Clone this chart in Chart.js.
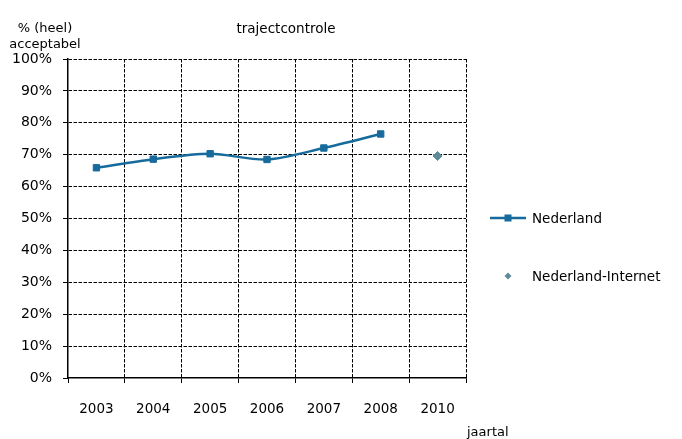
<!DOCTYPE html>
<html>
<head>
<meta charset="utf-8">
<script src="https://cdn.jsdelivr.net/npm/chart.js@4/dist/chart.umd.min.js"></script>
<style>
  body { margin: 0; background: #fff; font-family: "DejaVu Sans", Verdana, sans-serif; color: #000; }
  #wrap { position: relative; width: 682px; height: 439px; }
  .txt { position: absolute; font-size: 13px; white-space: nowrap; line-height: 16px; }
  .legend-item { position: absolute; left: 490px; width: 190px; height: 16px; font-size: 13.5px; line-height: 16px; white-space: nowrap; }
  .legend-item svg { position: absolute; left: 0; top: 0; }
  .legend-item span { position: absolute; left: 42px; top: 0; }
</style>
</head>
<body>
<div id="wrap">
  <canvas id="chart" width="682" height="439"></canvas>
  <div class="txt" style="left:45px; top:20px; transform:translateX(-50%); text-align:center;">% (heel)<br>acceptabel</div>
  <div class="txt" style="left:286px; top:20px; transform:translateX(-50%); font-size:13.5px;">trajectcontrole</div>
  <div class="txt" style="left:467px; top:424px;">jaartal</div>
  <div class="legend-item" style="top:210px;">
    <svg width="40" height="16"><line x1="0" y1="8" x2="36" y2="8" stroke="#176b9c" stroke-width="2.5"/><rect x="14.5" y="4.5" width="7" height="7" fill="#176b9c"/></svg>
    <span>Nederland</span>
  </div>
  <div class="legend-item" style="top:268px;">
    <svg width="40" height="16"><polygon points="18,4.5 21.5,8 18,11.5 14.5,8" fill="#5f8a9a"/></svg>
    <span>Nederland-Internet</span>
  </div>
</div>
<script>
const years = ["2003", "2004", "2005", "2006", "2007", "2008", "2010"];
const nederland = [65.9, 68.6, 70.3, 68.5, 72.1, 76.5, null];
const nederlandInternet = [null, null, null, null, null, null, 69.6];
const yTicks = [0, 10, 20, 30, 40, 50, 60, 70, 80, 90, 100];

new Chart(document.getElementById("chart"), {
    type: "line",
    data: {
        labels: years,
        datasets: [
            {
                label: "Nederland",
                data: nederland,
                borderColor: "#176b9c",
                backgroundColor: "#176b9c",
                borderWidth: 2.5,
                tension: 0.3,
                pointStyle: "rect",
                pointRadius: 4.5,
                pointBorderWidth: 1
            },
            {
                label: "Nederland-Internet",
                data: nederlandInternet,
                borderColor: "#5f8a9a",
                backgroundColor: "#5f8a9a",
                showLine: false,
                pointStyle: "rectRot",
                pointRadius: 4.5,
                pointBorderWidth: 1
            }
        ]
    },
    options: {
        responsive: false,
        animation: false,
        layout: { padding: { left: 0, right: 216, top: 59, bottom: 0 } },
        plugins: { legend: { display: false }, title: { display: false }, tooltip: { enabled: false } },
        scales: {
            x: {
                offset: true,
                grid: {
                    offset: true,
                    lineWidth: 1,
                    // first boundary sits on the solid y axis, keep it clean
                    color: ctx => ctx.index === 0 ? "rgba(0,0,0,0)" : "#000",
                    tickColor: "#000",
                    tickLength: 5,
                    tickBorderDash: []
                },
                border: { display: true, color: "#000", width: 1.5, dash: [3.5, 1.5] },
                ticks: { color: "#000", font: { family: "DejaVu Sans", size: 13.5 }, padding: 18, maxRotation: 0 },
                afterFit(scale) { scale.height = 61; }
            },
            y: {
                min: 0,
                max: 100,
                afterBuildTicks(scale) { scale.ticks = yTicks.map(v => ({ value: v })); },
                grid: {
                    lineWidth: 1,
                    color: ctx => ctx.index === 0 ? "rgba(0,0,0,0)" : "#000",
                    tickColor: "#000",
                    tickLength: 5,
                    tickBorderDash: []
                },
                border: { display: true, color: "#000", width: 1.5, dash: [3.5, 1.5] },
                ticks: { color: "#000", font: { family: "DejaVu Sans", size: 14 }, padding: 11, callback: v => v + "%" },
                afterFit(scale) { scale.width = 68; }
            }
        }
    }
});
</script>
</body>
</html>
